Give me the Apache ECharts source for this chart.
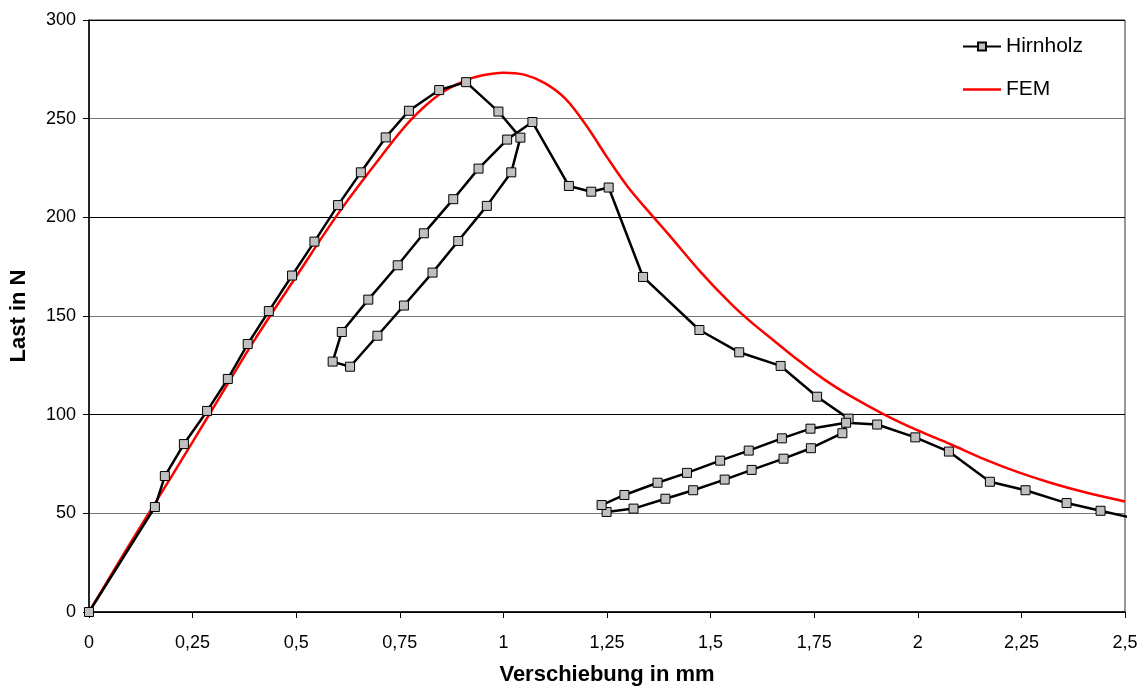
<!DOCTYPE html>
<html>
<head>
<meta charset="utf-8">
<script src="https://cdn.jsdelivr.net/npm/echarts@6/dist/echarts.min.js"></script>
<style>
html,body{margin:0;padding:0;background:#fff;}
#c{width:1146px;height:687px;}
</style>
</head>
<body>
<div id="c"></div>
<script>
// Hirnholz (measured, with unloading/reloading loops)
const hirnX = [0,0.159,0.183,0.229,0.285,0.335,0.383,0.434,0.490,0.544,0.601,0.656,0.716,0.772,0.845,0.910,0.988,1.041,1.019,0.960,0.891,0.829,0.760,0.696,0.630,0.588,0.610,0.674,0.745,0.808,0.879,0.940,1.009,1.070,1.158,1.212,1.254,1.337,1.473,1.569,1.669,1.757,1.833,1.818,1.742,1.676,1.599,1.534,1.458,1.391,1.314,1.249,1.237,1.292,1.372,1.443,1.523,1.592,1.672,1.741,1.827,1.902,1.994,2.075,2.174,2.260,2.359,2.441,2.51];
const hirnY = [0,53.2,68.9,85.1,101.9,118.1,135.8,152.5,170.5,187.7,206.2,222.8,240.5,254.0,264.5,268.5,253.6,240.4,222.8,205.8,188.0,172.0,155.3,140.0,124.3,126.9,141.9,158.3,175.7,191.9,209.2,224.7,239.4,248.3,215.9,213.0,215.1,169.8,142.9,131.6,124.7,109.1,98.0,90.6,83.0,77.7,72.0,67.1,61.7,57.4,52.4,50.7,54.2,59.3,65.5,70.5,76.7,81.8,88.0,92.9,95.9,95.0,88.5,81.3,66.0,61.7,55.2,51.3,48.0];
// FEM curve
const femX = [0,0.1,0.2,0.3,0.4,0.5,0.6,0.7,0.775,0.85,0.912,0.95,1.0,1.05,1.1,1.15,1.2,1.25,1.3,1.35,1.4,1.475,1.55,1.6,1.65,1.7,1.773,1.837,1.918,2.0,2.079,2.16,2.24,2.32,2.401,2.5];
const femY = [0,35,69,103.5,138,170,201.5,229.5,249,263,269.6,272,273.3,272.3,268,260,246.5,230.5,215.5,203,191,172.5,156,146.5,138,129.5,118,109.5,100.2,92,85,77.5,71,65.5,60.8,56];
const xTicks = [0,0.25,0.5,0.75,1,1.25,1.5,1.75,2,2.25,2.5];
const yTicks = [0,50,100,150,200,250,300];

const FONT = '"Liberation Sans", Arial, sans-serif';
const chart = echarts.init(document.getElementById('c'), null, {renderer:'canvas'});
chart.setOption({
  backgroundColor:'#fff',
  animation:false,
  grid:{left:89,right:21,top:20,bottom:75,show:true,borderColor:'#333',borderWidth:1,
        containLabel:false, outerBoundsMode:'none'},
  legend:{
    orient:'vertical', left:957, top:31, itemWidth:38, itemHeight:10, itemGap:22,
    textStyle:{fontFamily:FONT,fontSize:21,color:'#000'},
    data:[
      {name:'Hirnholz'},
      {name:'FEM', icon:'path://M0,0 L38,0 L38,2.5 L0,2.5 Z', itemStyle:{color:'#ff0000'}}
    ]
  },
  xAxis:{
    type:'value', min:xTicks[0], max:xTicks[xTicks.length-1], interval:0.25,
    name:'Verschiebung in mm', nameLocation:'middle', nameGap:52,
    nameTextStyle:{fontFamily:FONT,fontSize:22,fontWeight:'bold',color:'#000'},
    axisLine:{lineStyle:{color:'#000',width:1.5}},
    axisTick:{show:true,inside:false,length:6,lineStyle:{color:'#000'}},
    axisLabel:{fontFamily:FONT,fontSize:18,color:'#000',margin:22,
      formatter:v=>String(v).replace('.',',')},
    splitLine:{show:false}
  },
  yAxis:{
    type:'value', min:yTicks[0], max:yTicks[yTicks.length-1], interval:50,
    name:'Last in N', nameLocation:'middle', nameGap:59,
    nameTextStyle:{fontFamily:FONT,fontSize:22,fontWeight:'bold',color:'#000'},
    axisLine:{show:true,lineStyle:{color:'#000',width:1.5}},
    axisTick:{show:true,inside:false,length:6,lineStyle:{color:'#000'}},
    axisLabel:{fontFamily:FONT,fontSize:18,color:'#000',margin:13},
    splitLine:{show:true,lineStyle:{color:['#000','#777'],width:1}}
  },
  series:[
    {
      name:'Hirnholz', type:'line', clip:true,
      data:hirnX.map((x,i)=>[x,hirnY[i]]),
      symbol:'rect', symbolSize:9,
      itemStyle:{color:'#c0c0c0',borderColor:'#000',borderWidth:1},
      lineStyle:{color:'#000',width:2.5},
      z:3
    },
    {
      name:'FEM', type:'line', clip:true, smooth:0.35,
      data:femX.map((x,i)=>[x,femY[i]]),
      symbol:'none',
      itemStyle:{color:'#ff0000'},
      lineStyle:{color:'#ff0000',width:2.5},
      z:2
    }
  ]
});
</script>
</body>
</html>
